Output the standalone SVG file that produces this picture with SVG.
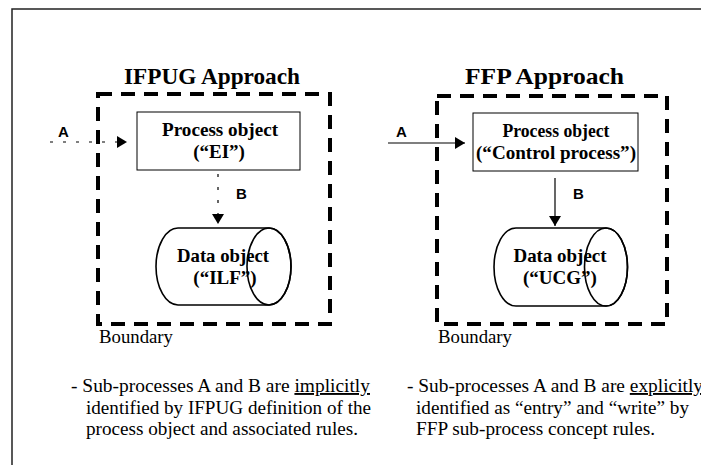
<svg xmlns="http://www.w3.org/2000/svg" width="701" height="465" viewBox="0 0 701 465">
<style>
.frame{stroke:#222;stroke-width:1.5;fill:none}
.boundary{fill:none;stroke:#000;stroke-width:4;stroke-dasharray:14,9}
.box{fill:#fff;stroke:#000;stroke-width:1}
.cyl{fill:#fff;stroke:#000;stroke-width:1.6}
.title{font-family:'Liberation Serif','Times New Roman',serif;font-weight:bold;font-size:24px;fill:#000}
.bold{font-family:'Liberation Serif','Times New Roman',serif;font-weight:bold;font-size:19px;fill:#000;text-anchor:middle}
.lbl{font-family:'Liberation Sans',Arial,sans-serif;font-weight:bold;font-size:15px;fill:#000}
.note{font-family:'Liberation Serif','Times New Roman',serif;font-size:19px;fill:#000}
.conn{stroke:#000;stroke-width:1.2;fill:none}
.dot{stroke-dasharray:3,10}
</style>
<defs>
<marker id="ah" viewBox="0 0 10 12" refX="10" refY="6" markerWidth="10" markerHeight="12" markerUnits="userSpaceOnUse" orient="auto">
<path d="M0,0 L10,6 L0,12 Z" fill="#000"/>
</marker>
</defs>
<path class="frame" d="M12,465 V9 H701"/>
<text class="title" x="124" y="84" textLength="176" lengthAdjust="spacingAndGlyphs">IFPUG  Approach</text>
<text class="title" x="465" y="84" textLength="159" lengthAdjust="spacingAndGlyphs">FFP  Approach</text>
<g id="boundary-ifpug">
<rect class="boundary" x="98" y="94" width="232" height="230"/>
<text class="note" x="99" y="343" textLength="74" lengthAdjust="spacingAndGlyphs">Boundary</text>
</g>
<g id="boundary-ffp">
<rect class="boundary" x="437" y="96" width="230" height="228"/>
<text class="note" x="438" y="343" textLength="74" lengthAdjust="spacingAndGlyphs">Boundary</text>
</g>
<g id="process-ifpug">
<rect class="box" x="137" y="112" width="163" height="58"/>
<text class="bold" x="220" y="136" textLength="116" lengthAdjust="spacingAndGlyphs">Process object</text>
<text class="bold" x="219" y="158">(“EI”)</text>
</g>
<g id="process-ffp">
<rect class="box" x="473" y="113" width="165" height="58"/>
<text class="bold" x="556" y="137" textLength="107" lengthAdjust="spacingAndGlyphs">Process object</text>
<text class="bold" x="556" y="159" textLength="160" lengthAdjust="spacingAndGlyphs">(“Control process”)</text>
</g>
<g id="data-ifpug">
<path class="cyl" d="M178,228 A22,38.5 0 0 0 178,305 H269 A22,38.5 0 0 0 269,228 Z"/>
<ellipse class="cyl" cx="269" cy="266.5" rx="22" ry="38.5" style="fill:none"/>
<text class="bold" x="223" y="262" textLength="92" lengthAdjust="spacingAndGlyphs">Data object</text>
<text class="bold" x="225" y="284">(“ILF”)</text>
</g>
<g id="data-ffp">
<path class="cyl" d="M516,228 A22,39 0 0 0 516,306 H606 A21.5,39 0 0 0 606,228 Z"/>
<ellipse class="cyl" cx="606" cy="267" rx="21.5" ry="39" style="fill:none"/>
<text class="bold" x="560" y="262" textLength="93" lengthAdjust="spacingAndGlyphs">Data object</text>
<text class="bold" x="560" y="284">(“UCG”)</text>
</g>
<g id="connectors">
<line class="conn dot" x1="50" y1="142" x2="127" y2="142" marker-end="url(#ah)"/>
<line class="conn dot" x1="218" y1="174" x2="218" y2="224" marker-end="url(#ah)"/>
<line class="conn" x1="388" y1="143" x2="465" y2="143" marker-end="url(#ah)"/>
<line class="conn" x1="555" y1="178" x2="555" y2="226" marker-end="url(#ah)"/>
<text class="lbl" x="58" y="137">A</text>
<text class="lbl" x="236" y="199">B</text>
<text class="lbl" x="396" y="137">A</text>
<text class="lbl" x="573" y="199">B</text>
</g>
<g id="notes">
<text class="note" x="71" y="392" textLength="299" lengthAdjust="spacingAndGlyphs">- Sub-processes A and B are <tspan text-decoration="underline">implicitly</tspan></text>
<text class="note" x="86" y="414" textLength="285" lengthAdjust="spacingAndGlyphs">identified by IFPUG definition of the</text>
<text class="note" x="86" y="435" textLength="272" lengthAdjust="spacingAndGlyphs">process object and associated rules.</text>
<text class="note" x="407" y="392" textLength="296" lengthAdjust="spacingAndGlyphs">- Sub-processes A and B are <tspan text-decoration="underline">explicitly</tspan></text>
<text class="note" x="416" y="414" textLength="273" lengthAdjust="spacingAndGlyphs">identified as “entry” and “write” by</text>
<text class="note" x="416" y="435" textLength="239" lengthAdjust="spacingAndGlyphs">FFP sub-process concept  rules.</text>
</g>
</svg>
